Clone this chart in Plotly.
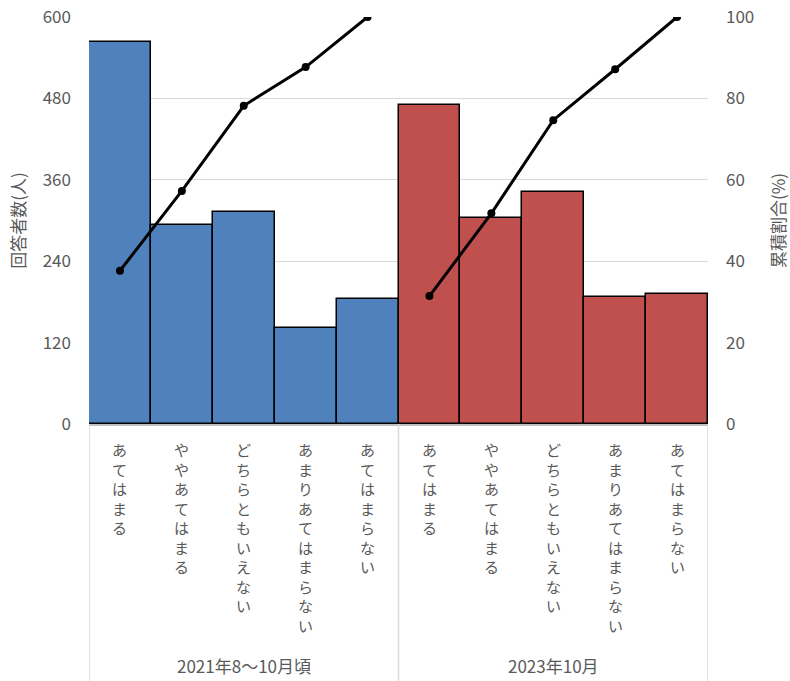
import plotly.graph_objects as go

# Survey answer categories and response counts per survey period
categories = ["あてはまる", "ややあてはまる", "どちらともいえない", "あまりあてはまらない", "あてはまらない"]
periods = ["2021年8〜10月頃", "2023年10月"]
counts_2021 = [563, 293, 313, 142, 184]
counts_2023 = [470, 304, 342, 187, 192]
colors = ["#4f81bd", "#c0504d"]

FONT = "Noto Sans CJK JP"
GREY = "#595959"
GRID = "#d9d9d9"


def cumulative_pct(vals):
    total = sum(vals)
    out, run = [], 0
    for v in vals:
        run += v
        out.append(run / total * 100)
    return out


def vertical(text):
    # stack upright characters one per line
    return "<br>".join(list(text))


fig = go.Figure()
n = len(categories)
for gi, (vals, col) in enumerate(zip([counts_2021, counts_2023], colors)):
    xs = [gi * n + i + 0.5 for i in range(n)]
    fig.add_trace(go.Bar(
        x=xs, y=vals, width=1.0, marker=dict(color=col, line=dict(color="black", width=1.5)),
        yaxis="y", showlegend=False, hoverinfo="y",
    ))
    fig.add_trace(go.Scatter(
        x=xs, y=cumulative_pct(vals), mode="lines+markers", yaxis="y2",
        line=dict(color="black", width=3), marker=dict(color="black", size=8),
        showlegend=False,
    ))
    for x, cat in zip(xs, categories):
        fig.add_annotation(
            x=x, y=0, xref="x", yref="paper", xanchor="center", yanchor="top",
            yshift=-13, text=vertical(cat), showarrow=False,
            font=dict(family=FONT, size=15, color=GREY),
        )
    # Period label
    fig.add_annotation(
        x=gi * n + n / 2, y=-0.593, xref="x", yref="paper", xanchor="center", yanchor="middle",
        text=periods[gi], showarrow=False, font=dict(family=FONT, size=17, color=GREY),
    )

# Group divider lines beneath the axis
for xd in [0, n, 2 * n]:
    fig.add_shape(type="line", xref="x", yref="paper", x0=xd, x1=xd, y0=0, y1=-0.64,
                  line=dict(color=GRID, width=1.5))

fig.update_layout(
    width=790, height=681,
    margin=dict(l=89, r=82, t=17, b=257, autoexpand=False),
    paper_bgcolor="white", plot_bgcolor="white",
    bargap=0,
    font=dict(family=FONT, color=GREY, size=17),
    xaxis=dict(range=[0, 2 * n], showticklabels=False, showgrid=False, zeroline=False,
               showline=True, linecolor="#bfbfbf", linewidth=1.5, fixedrange=True),
    yaxis=dict(range=[0, 600], dtick=120, tick0=0, showgrid=True, gridcolor=GRID, gridwidth=1.2,
               zeroline=False, ticks="", tickfont=dict(size=17, color=GREY),
               ticklabelstandoff=17, automargin=False,
               title=dict(text="回答者数(人)", font=dict(size=17, color=GREY), standoff=12)),
    yaxis2=dict(range=[0, 100], dtick=20, tick0=0, overlaying="y", side="right",
                showgrid=False, zeroline=False, ticks="", tickfont=dict(size=17, color=GREY),
                ticklabelstandoff=17, automargin=False,
                title=dict(text="累積割合(%)", font=dict(size=17, color=GREY), standoff=19)),
)

fig.write_html("out.html")
